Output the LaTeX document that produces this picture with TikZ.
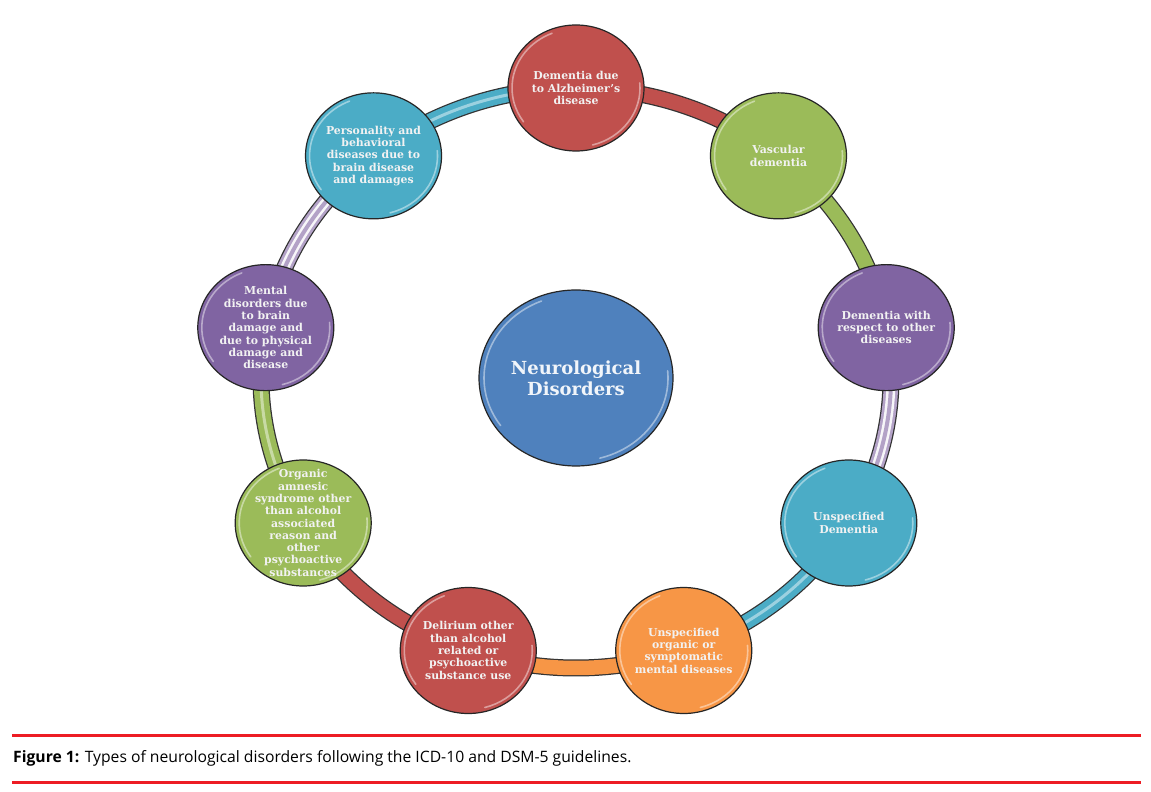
\documentclass[tikz,border=0pt]{standalone}
\usepackage{fontspec}
\newfontfamily\bubfont{DejaVu Serif}
\newfontfamily\capfont{Open Sans}
\usetikzlibrary{shapes.geometric,calc}
\definecolor{cred}{HTML}{C0504D}
\definecolor{cgreen}{HTML}{9BBB59}
\definecolor{cpurple}{HTML}{8064A2}
\definecolor{cteal}{HTML}{4BACC6}
\definecolor{corange}{HTML}{F79646}
\definecolor{cblue}{HTML}{4F81BD}
\definecolor{clav}{HTML}{B3A2C7}
\definecolor{capred}{HTML}{ED1C24}
\begin{document}
\begin{tikzpicture}[x=1pt,y=1pt,
  bub/.style={ellipse, draw=black!85, line width=1.2pt, minimum width=136pt, minimum height=126pt, inner sep=0pt},
  hub/.style={ellipse, draw=black!85, line width=1.2pt, minimum width=194pt, minimum height=176pt, inner sep=0pt, fill=cblue},
  txt/.style={font=\bubfont\bfseries\fontsize{10.9}{12.3}\selectfont, text=white!95!black, align=center, inner sep=0pt},
  hubtxt/.style={font=\bubfont\bfseries\fontsize{18}{21}\selectfont, text=white!92!cblue, align=center, inner sep=0pt},
  tubeout/.style={line width=17pt, draw=black!80},
  tubein/.style={line width=14.5pt},
  gloss/.style={white, opacity=.45, line width=1.6pt, line cap=round},
  capline/.style={capred, line width=3pt}]
\useasboundingbox (0,0) rectangle (1151,792);
\fill[white] (0,0) rectangle (1151,792);
\coordinate (c) at (576,414);
\foreach \i/\a in {1/90,2/50,3/10,4/-30,5/-70,6/-110,7/-150,8/170,9/130}
  \coordinate (p\i) at ($(c)+(\a:315pt and 290pt)$);
% tubes
\foreach \i/\a/\col in {1/90/cred,2/50/cgreen,3/10/clav,4/-30/cteal,5/-70/corange,6/-110/cred,7/-150/cgreen,8/170/clav,9/130/cteal}{
  \draw[tubeout] (p\i) arc[start angle=\a, end angle=\a-40, x radius=315pt, y radius=290pt];
  \draw[tubein, draw=\col] (p\i) arc[start angle=\a, end angle=\a-40, x radius=315pt, y radius=290pt];
}
\foreach \i/\a in {3/10,8/170}{
  \draw[line width=9pt, draw=white!90!clav] (p\i) arc[start angle=\a, end angle=\a-40, x radius=315pt, y radius=290pt];
  \draw[line width=4pt, draw=clav] (p\i) arc[start angle=\a, end angle=\a-40, x radius=315pt, y radius=290pt];
}
\foreach \i/\a/\col in {4/-30/cteal,9/130/cteal,7/-150/cgreen}{
  \draw[line width=3pt, draw=\col!55!white] (p\i) arc[start angle=\a, end angle=\a-40, x radius=315pt, y radius=290pt];
}
% hub
\node[hub] (hub) at (c) {};
\node[hubtxt] (hubt) at (hub.center) {Neurological\\Disorders};
% bubbles
\node[bub, fill=cred]    (n1) at (p1) {};
\node[bub, fill=cgreen]  (n2) at (p2) {};
\node[bub, fill=cpurple] (n3) at (p3) {};
\node[bub, fill=cteal]   (n4) at (p4) {};
\node[bub, fill=corange] (n5) at (p5) {};
\node[bub, fill=cred]    (n6) at (p6) {};
\node[bub, fill=cgreen]  (n7) at (p7) {};
\node[bub, fill=cpurple] (n8) at (p8) {};
\node[bub, fill=cteal]   (n9) at (p9) {};
% gloss
\foreach \n in {n1,n2,n3,n4,n5,n6,n7,n8,n9}{
  \draw[gloss] ($(\n.center)+(112:64pt and 59pt)$) arc[start angle=112, end angle=215, x radius=64pt, y radius=59pt];
  \draw[gloss] ($(\n.center)+(-75:64pt and 59pt)$) arc[start angle=-75, end angle=5, x radius=64pt, y radius=59pt];
}
\draw[gloss] ($(hub.center)+(112:92pt and 83pt)$) arc[start angle=112, end angle=215, x radius=92pt, y radius=83pt];
\draw[gloss] ($(hub.center)+(-75:92pt and 83pt)$) arc[start angle=-75, end angle=5, x radius=92pt, y radius=83pt];
% texts
\node[txt] (t1) at (n1.center) {Dementia due\\to Alzheimer’s\\disease};
\node[txt] (t2) at (n2.center) {Vascular\\dementia};
\node[txt] (t3) at (n3.center) {Dementia with\\respect to other\\diseases};
\node[txt] (t4) at (n4.center) {Unspecified\\Dementia};
\node[txt] (t5) at (n5.center) {Unspecified\\organic or\\symptomatic\\mental diseases};
\node[txt] (t6) at (n6.center) {Delirium other\\than alcohol\\related or\\psychoactive\\substance use};
\node[txt] (t7) at (n7.center) {Organic\\amnesic\\syndrome other\\than alcohol\\associated\\reason and\\other\\psychoactive\\substances};
\node[txt] (t8) at (n8.center) {Mental\\disorders due\\to brain\\damage and\\due to physical\\damage and\\disease};
\node[txt] (t9) at (n9.center) {Personality and\\behavioral\\diseases due to\\brain disease\\and damages};
% caption
\coordinate (l1a) at (12,56); \coordinate (l1b) at (1141,56);
\coordinate (l2a) at (12,9);  \coordinate (l2b) at (1141,9);
\draw[capline] (l1a) -- (l1b);
\draw[capline] (l2a) -- (l2b);
\node[anchor=base west, inner sep=0pt, font=\capfont\fontsize{15.7}{18}\selectfont] (cap) at (13,29) {\textbf{Figure 1:} Types of neurological disorders following the ICD-10 and DSM-5 guidelines.};
\end{tikzpicture}
\end{document}
